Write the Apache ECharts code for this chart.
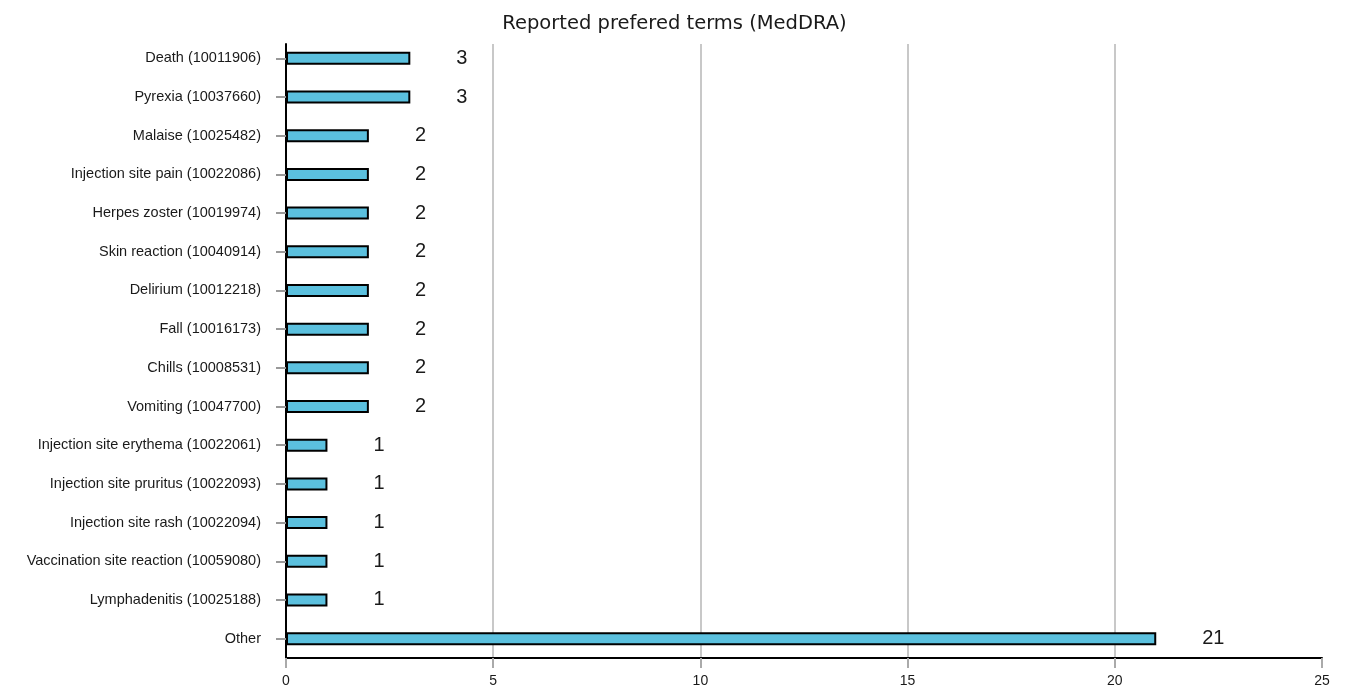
<!DOCTYPE html>
<html><head><meta charset="utf-8">
<script src="https://cdn.jsdelivr.net/npm/echarts@6/dist/echarts.min.js"></script>
<style>html,body{margin:0;padding:0;background:#fff}#c{width:1349px;height:688px}</style>
</head><body><div id="c"></div>
<script>
const categories = ["Death (10011906)","Pyrexia (10037660)","Malaise (10025482)","Injection site pain (10022086)","Herpes zoster (10019974)","Skin reaction (10040914)","Delirium (10012218)","Fall (10016173)","Chills (10008531)","Vomiting (10047700)","Injection site erythema (10022061)","Injection site pruritus (10022093)","Injection site rash (10022094)","Vaccination site reaction (10059080)","Lymphadenitis (10025188)","Other"];
const counts = [3,3,2,2,2,2,2,2,2,2,1,1,1,1,1,21];
const xTicks = [0,5,10,15,20,25];
const titleText = "Reported prefered terms (MedDRA)";

const chart = echarts.init(document.getElementById('c'));
const font = "Liberation Sans, Arial, sans-serif";
const titleFont = "DejaVu Sans, Liberation Sans, sans-serif";
chart.setOption({
  animation: false,
  textStyle: {fontFamily: font},
  title: {text: titleText, left: 'center', top: 9,
    textStyle: {fontSize: 19.5, fontWeight: 'normal', color: '#1a1a1a', fontFamily: titleFont}},
  grid: [
    {left: 286, right: 27, top: 39, bottom: 30},
    {left: 286, right: 27, top: 44, bottom: 30}
  ],
  xAxis: [
    {gridIndex: 0, type: 'value', min: 0, max: 25, interval: 5, show: false},
    {gridIndex: 1, type: 'value', min: xTicks[0], max: xTicks[xTicks.length-1], interval: 5,
      axisLine: {show: true, lineStyle: {color: '#000', width: 2}},
      axisTick: {show: true, length: 10, lineStyle: {color: '#aaa', width: 2}},
      axisLabel: {color: '#1a1a1a', fontSize: 14, margin: 16, fontFamily: font},
      splitLine: {show: true, showMinLine: false, showMaxLine: false, lineStyle: {color: '#c8c8c8', width: 2}}}
  ],
  yAxis: [
    {gridIndex: 0, type: 'category', data: categories, inverse: true,
      axisLine: {show: false},
      axisTick: {show: true, alignWithLabel: true, length: 10, lineStyle: {color: '#999', width: 2}},
      axisLabel: {color: '#1a1a1a', fontSize: 14.5, margin: 25, fontFamily: font}},
    {gridIndex: 1, type: 'value', min: 0, max: 1,
      axisLine: {show: true, lineStyle: {color: '#000', width: 2}},
      axisTick: {show: false}, axisLabel: {show: false}, splitLine: {show: false}}
  ],
  series: [{
    type: 'bar', xAxisIndex: 0, yAxisIndex: 0, data: counts, barWidth: 13,
    itemStyle: {color: '#5bc0de', borderColor: '#000', borderWidth: 2},
    label: {show: true, position: 'right', distance: 46, fontSize: 20, color: '#1a1a1a', fontFamily: font}
  }]
});
</script></body></html>
